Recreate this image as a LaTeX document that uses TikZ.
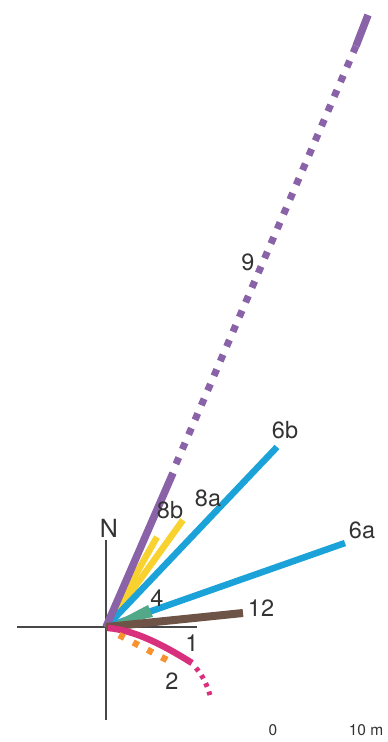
\documentclass[tikz,border=0pt]{standalone}
\usepackage{fontspec}
\setmainfont{TeX Gyre Heros}
\definecolor{cpurple}{HTML}{8A62A8}
\definecolor{cblue}{HTML}{1BA3D9}
\definecolor{cyellow}{HTML}{F8D22E}
\definecolor{cbrown}{HTML}{6E5446}
\definecolor{cgreen}{HTML}{52A888}
\definecolor{cmag}{HTML}{D9307D}
\definecolor{corange}{HTML}{F7922F}
\definecolor{ctext}{HTML}{333333}
\begin{document}
\begin{tikzpicture}[x=1pt,y=-1pt,
  axis/.style={line width=1.2pt,color=ctext!90},
  ray/.style={line width=#1,line cap=butt},
  ray/.default=6.5pt,
  lbl/.style={font=\fontsize{23.5}{23.5}\selectfont,text=ctext,inner sep=0pt},
  small/.style={font=\fontsize{15.5}{15.5}\selectfont,text=ctext,inner sep=0pt}]
\useasboundingbox (0,0) rectangle (388,742);
% coordinates
\coordinate (O) at (106,627);
\coordinate (xl) at (17,627);
\coordinate (xr) at (197,627);
\coordinate (yt) at (106,540);
\coordinate (yb) at (106,720);
\coordinate (p9a) at (173,473);
\coordinate (p9b) at (176,464);
\coordinate (p9c) at (356,46);
\coordinate (p9d) at (368,15);
\coordinate (p6b) at (277,447);
\coordinate (p6a) at (345,543);
\coordinate (p8a) at (183,520);
\coordinate (p8b) at (157,537);
\coordinate (p12) at (243,613);
\coordinate (m0) at (108,628);
\coordinate (m1) at (192,663);
\coordinate (m2) at (196,668);
\coordinate (m3) at (210,695);
\coordinate (o0) at (119,635);
\coordinate (o1) at (169,661);
% axes
\draw[axis] (xl) -- (xr);
\draw[axis] (yt) -- (yb);
\node[font=\fontsize{25}{25}\selectfont,text=ctext,inner sep=0pt] (N) at (109,528) {N};
% rays
\draw[ray,cyellow] (O) -- (p8a);
\draw[ray,cyellow] (O) -- (p8b);
\draw[ray,cblue] (O) -- (p6b);
\draw[ray,cblue] (O) -- (p6a);
\draw[ray=7.5pt,cpurple] (O) -- (p9a);
\draw[ray=7pt,cpurple,dash pattern=on 7pt off 9pt] (p9b) -- (p9c);
\draw[ray=7.5pt,cpurple] (p9c) -- (p9d);
\fill[cgreen] (O) -- (148,605) -- (153,617) -- cycle;
\draw[ray=8pt,cbrown] (O) -- (p12);
\draw[ray=6.5pt,cmag] (m0) .. controls (135,630) and (165,646) .. (m1);
\draw[ray=5pt,cmag,dash pattern=on 4pt off 5pt] (m2) .. controls (203,676) and (207,685) .. (m3);
\draw[ray=6.5pt,corange,dash pattern=on 6pt off 10pt] (o0) -- (o1);
% labels
\node[lbl] (l9) at (248,262) {9};
\node[lbl] (l6b) at (285,430) {6b};
\node[lbl] (l8a) at (208,498) {8a};
\node[lbl] (l8b) at (170,510) {8b};
\node[lbl] (l6a) at (362,530) {6a};
\node[lbl] (l4) at (157,598) {4};
\node[lbl] (l12) at (261,608) {12};
\node[lbl] (l1) at (192,643) {1};
\node[lbl] (l2) at (172,681) {2};
\node[small] (s0) at (273,730) {0};
\node[small] (s10) at (366,730) {10 m};
\end{tikzpicture}
\end{document}
